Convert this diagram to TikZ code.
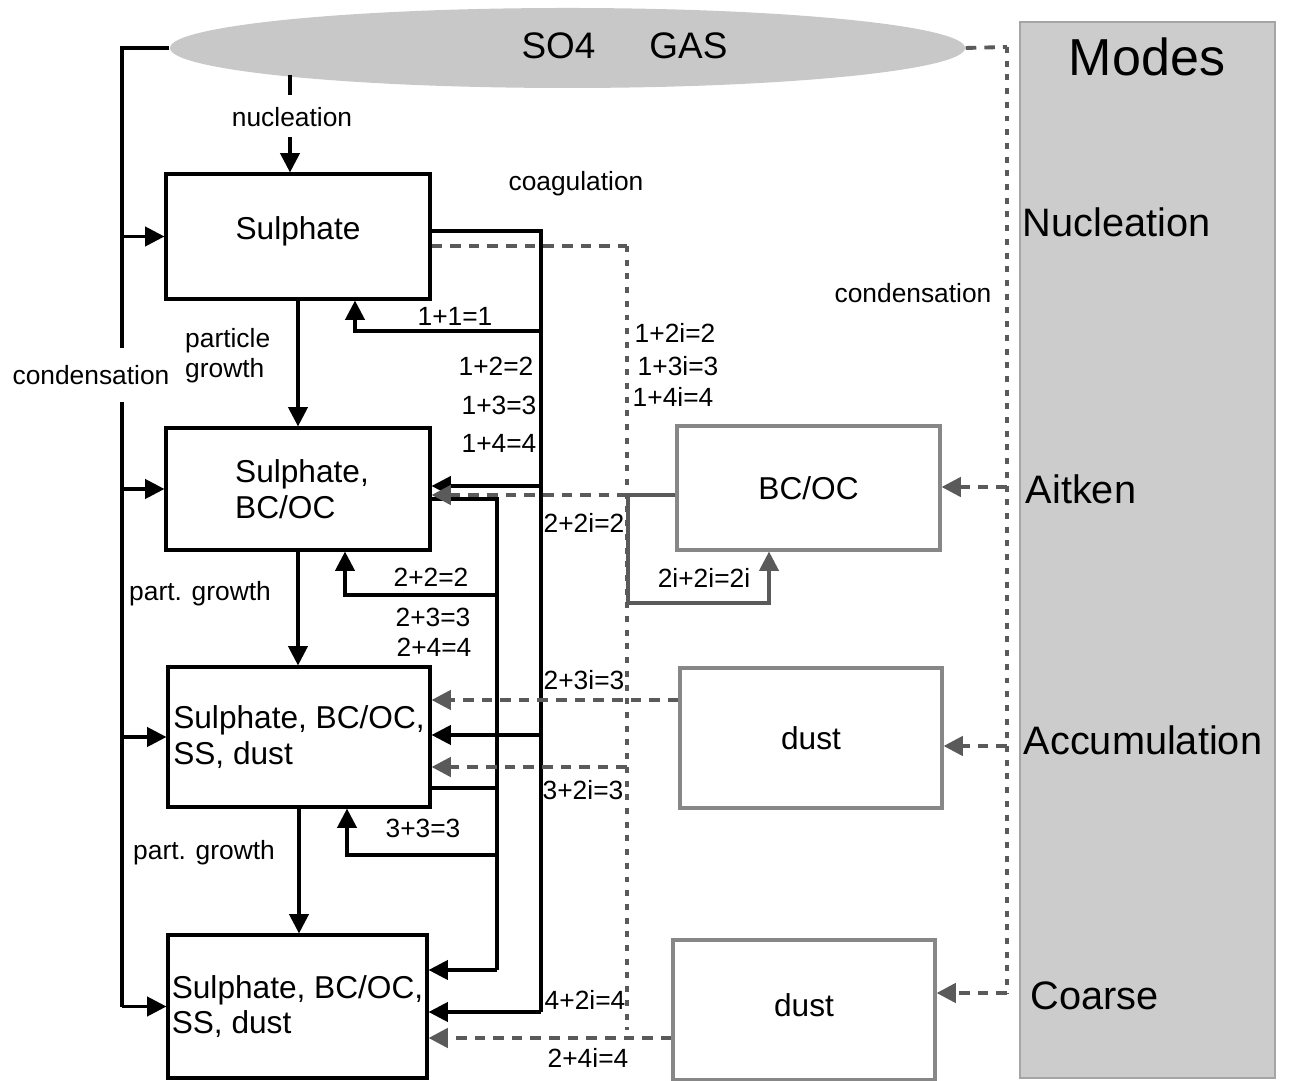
\documentclass[tikz,border=0pt]{standalone}
\usepackage{fontspec}
\setmainfont{Liberation Sans}
\usetikzlibrary{arrows.meta,shapes.geometric}

\definecolor{gasgray}{RGB}{200,200,200}
\definecolor{modegray}{RGB}{204,204,204}
\definecolor{modeedge}{RGB}{165,165,165}
\definecolor{boxgray}{RGB}{135,135,135}
\definecolor{dotgray}{RGB}{90,90,90}

\tikzset{
  sizebox/.style={draw=black, line width=0.9pt, align=left, inner sep=0pt,
    font=\fontsize{9}{10.2}\selectfont},
  extbox/.style={draw=boxgray, line width=0.9pt, inner sep=0pt,
    font=\fontsize{9}{10.2}\selectfont},
  plain/.style={line width=0.9pt},
  flow/.style={line width=0.9pt, -{Triangle[length=5.5pt,width=5.5pt]}},
  greyflow/.style={flow, draw=dotgray},
  dashline/.style={line width=1.1pt, draw=dotgray, dash pattern=on 3pt off 2.3pt},
  dashflow/.style={dashline, -{Triangle[length=5.5pt,width=5.5pt]}},
  dotline/.style={line width=1.3pt, draw=dotgray, dash pattern=on 1.7pt off 2.2pt},
  lbl/.style={font=\fontsize{7.5}{8.5}\selectfont, inner sep=1pt},
  modelbl/.style={font=\fontsize{11.3}{13}\selectfont, anchor=west, inner sep=0pt},
}

\begin{document}
\begin{tikzpicture}[x=1cm,y=-1cm]
  \useasboundingbox (0,0) rectangle (12.91,10.81);

  % Modes panel
  \node[fill=modegray, draw=modeedge, line width=0.6pt, minimum width=2.55cm,
    minimum height=10.56cm, inner sep=0pt] (modes) at (11.475,5.50) {};
  \node[font=\fontsize{14.8}{16}\selectfont] (modestitle) at (11.47,0.57) {Modes};
  \node[modelbl] (mnuc) at (10.22,2.22) {Nucleation};
  \node[modelbl] (mait) at (10.25,4.89) {Aitken};
  \node[modelbl] (macc) at (10.23,7.40) {Accumulation};
  \node[modelbl] (mcoa) at (10.30,9.96) {Coarse};

  % Gas
  \node[ellipse, fill=gasgray, minimum width=7.95cm, minimum height=0.80cm,
    inner sep=0pt] (gas) at (5.675,0.48) {};
  \node[font=\fontsize{10.5}{12}\selectfont] (gastext) at (6.245,0.46) {SO4\hspace{0.54cm}GAS};

  % Internally mixed modes
  \node[sizebox, minimum width=2.64cm, minimum height=1.25cm, text depth=0.17cm] (box1) at (2.98,2.365) {Sulphate};
  \node[sizebox, minimum width=2.64cm, minimum height=1.22cm] (box2) at (2.98,4.89) {\hspace{0.08cm}Sulphate,\\\hspace{0.08cm}BC/OC};
  \node[sizebox, minimum width=2.62cm, minimum height=1.40cm] (box3) at (2.99,7.37) {Sulphate, BC/OC,\\SS, dust};
  \node[sizebox, minimum width=2.59cm, minimum height=1.43cm] (box4) at (2.975,10.065) {Sulphate, BC/OC,\\SS, dust};

  % Insoluble modes
  \node[extbox, minimum width=2.63cm, minimum height=1.24cm] (bcoc) at (8.085,4.88) {BC/OC};
  \node[extbox, minimum width=2.62cm, minimum height=1.40cm] (dust1) at (8.11,7.38) {dust};
  \node[extbox, minimum width=2.62cm, minimum height=1.40cm, text depth=0.1cm] (dust2) at (8.04,10.10) {dust};

  % Condensation (left)
  \coordinate (cl) at (1.22,0.48);
  \draw[plain] (gas.west) -- (cl) -- (cl |- box4.west);
  \foreach \b in {box1,box2,box3,box4}
    \draw[flow] (cl |- \b.west) -- (\b.west);
  \node[lbl, fill=white, inner ysep=0.17cm] (condl) at (0.91,3.75) {condensation};

  % Nucleation
  \coordinate (nuctop) at (2.90,0.75);
  \node[lbl] (nuc) at (2.92,1.17) {nucleation};
  \draw[plain, shorten >=0.08cm] (nuctop) -- (nuctop |- nuc.north);
  \draw[flow, shorten <=0.06cm] (nuc.south -| nuctop) -- (nuctop |- box1.north);

  % Particle growth
  \draw[flow] (box1.south) -- (box1.south |- box2.north);
  \draw[flow] (box2.south) -- (box2.south |- box3.north);
  \draw[flow] (box3.south) -- (box3.south |- box4.north);
  \node[lbl, anchor=west, align=left] (pgrow1) at (1.81,3.555) {particle\\growth};
  \node[lbl] (pgrow2) at (2.00,5.94) {part. growth};
  \node[lbl] (pgrow3) at (2.04,8.53) {part. growth};

  % Coagulation from mode 1
  \coordinate (tA) at (5.41,2.31);
  \coordinate (tAend) at (5.41,10.12);
  \draw[plain] (box1.east |- tA) -- (tA) -- (tAend);
  \draw[flow] (tAend) -- (tAend -| box4.east);
  \coordinate (c11) at (3.55,3.31);
  \draw[flow] (c11 -| tA) -- (c11) -- (c11 |- box1.south);
  \draw[flow] (tA |- 0,4.86) -- (box2.east |- 0,4.86);
  \draw[flow] (tA |- 0,7.35) -- (box3.east |- 0,7.35);

  % Coagulation from modes 2 and 3
  \coordinate (tB) at (4.97,4.99);
  \coordinate (tBend) at (4.97,9.70);
  \draw[plain] (box2.east |- tB) -- (tB) -- (tBend);
  \draw[flow] (tBend) -- (tBend -| box4.east);
  \coordinate (c22) at (3.45,5.95);
  \draw[flow] (c22 -| tB) -- (c22) -- (c22 |- box2.south);
  \draw[plain] (box3.east |- 0,7.88) -- (tB |- 0,7.88);
  \coordinate (c33) at (3.47,8.55);
  \draw[flow] (c33 -| tB) -- (c33) -- (c33 |- box3.south);

  % Coagulation with insoluble modes
  \coordinate (tD) at (6.27,2.46);
  \coordinate (tDend) at (6.27,10.30);
  \draw[dashline] (box1.east |- tD) -- (tD);
  \draw[dotline] (tD) -- (tDend);
  \coordinate (tE) at (6.28,4.95);
  \coordinate (c2i) at (7.69,6.03);
  \draw[greyflow] (bcoc.west |- tE) -- (tE) -- (tE |- c2i) -- (c2i) -- (c2i |- bcoc.south);
  \draw[dashflow] (tE) -- (box2.east |- tE);
  \draw[dashflow] (dust1.west |- 0,7.00) -- (box3.east |- 0,7.00);
  \draw[dashflow] (tD |- 0,7.67) -- (box3.east |- 0,7.67);
  \draw[dashflow] (dust2.west |- 0,10.38) -- (box4.east |- 0,10.38);

  % Condensation (right)
  \coordinate (tR) at (10.07,0.47);
  \coordinate (tRend) at (10.07,9.93);
  \draw[dashline] (gas.east) -- (tR);
  \draw[dotline] (tR) -- (tRend);
  \draw[dashflow] (tR |- 0,4.87) -- (bcoc.east |- 0,4.87);
  \draw[dashflow] (tR |- 0,7.46) -- (dust1.east |- 0,7.46);
  \draw[dashflow] (tRend) -- (tRend -| dust2.east);
  \node[lbl] (condr) at (9.13,2.93) {condensation};
  \node[lbl] (coag) at (5.76,1.84) {coagulation};

  % Coagulation labels
  \foreach \x/\y/\t [count=\i] in {4.55/3.16/1+1=1, 4.96/3.66/1+2=2, 4.99/4.05/1+3=3,
      4.99/4.43/1+4=4, 6.75/3.33/1+2i=2, 6.78/3.66/1+3i=3, 6.73/3.97/1+4i=4,
      5.84/5.23/2+2i=2, 7.04/5.78/2i+2i=2i, 4.31/5.77/2+2=2, 4.33/6.17/2+3=3,
      4.34/6.47/2+4=4, 5.84/6.80/2+3i=3, 5.83/7.90/3+2i=3, 4.23/8.28/3+3=3,
      5.85/10.00/4+2i=4, 5.88/10.58/2+4i=4}
    \node[lbl] (k\i) at (\x,\y) {\t};

\end{tikzpicture}
\end{document}
